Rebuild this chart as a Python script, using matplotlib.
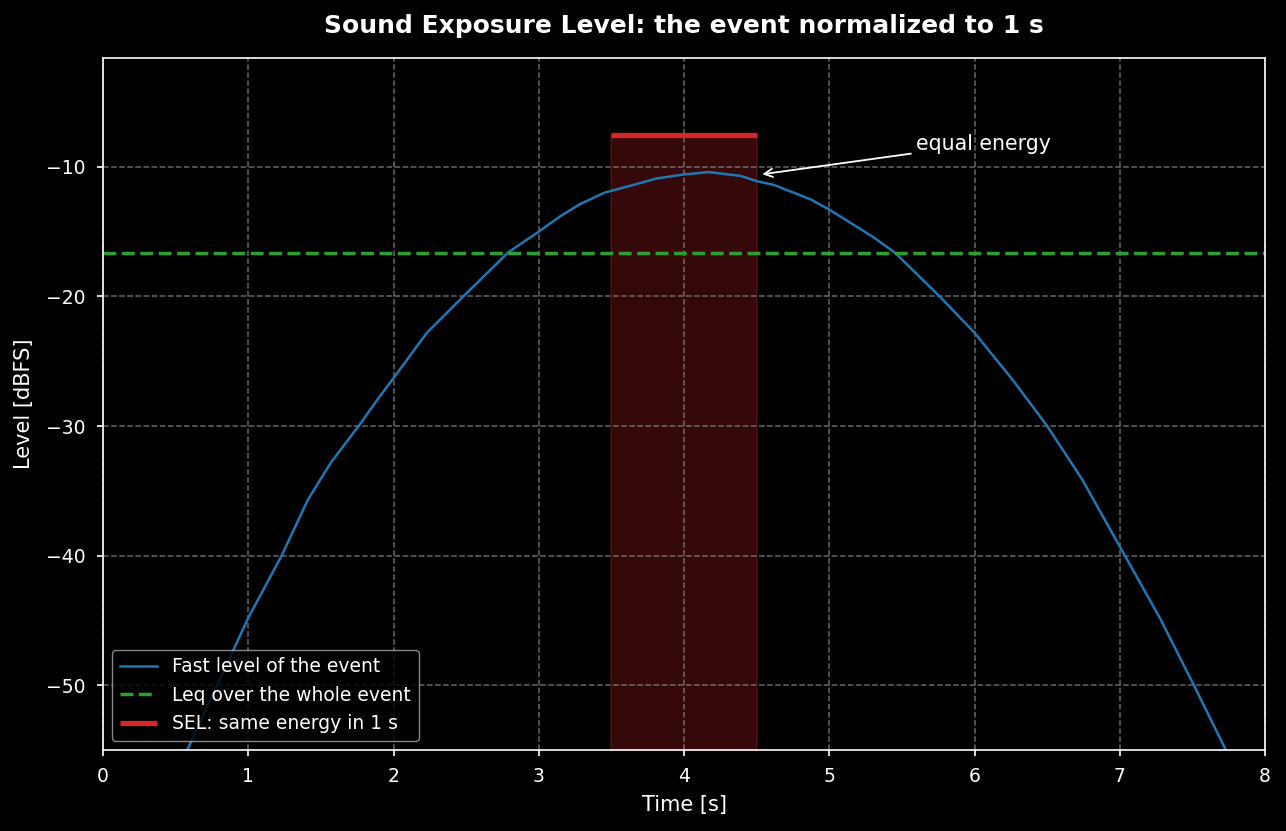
import numpy as np
import matplotlib
matplotlib.use('Agg')
from matplotlib import pyplot as plt

# values
t = [0.50, 0.58, 1.00, 1.23, 1.41, 1.57, 1.76, 1.90, 2.00, 2.23, 2.48, 2.79,
     3.00, 3.15, 3.28, 3.45, 3.65, 3.81, 3.99, 4.17, 4.39, 4.50, 4.62, 4.87,
     5.00, 5.30, 5.45, 5.76, 6.00, 6.26, 6.50, 6.74, 7.00, 7.28, 7.51, 7.73, 7.80]
level = [-56.8, -55.0, -44.8, -40.0, -35.7, -32.8, -30.0, -27.8, -26.3, -22.8,
         -20.0, -16.6, -15.0, -13.8, -12.9, -12.0, -11.4, -10.9, -10.6, -10.4,
         -10.7, -11.1, -11.4, -12.5, -13.3, -15.4, -16.6, -20.0, -22.8, -26.4,
         -30.0, -34.1, -39.3, -44.9, -50.0, -55.0, -56.7]
leq = -16.63
sel = -7.53
sel_window = [3.5, 4.5]

plt.style.use('dark_background')
fig = plt.figure(figsize=(12.86, 8.31), dpi=100)
ax = fig.add_axes([0.0801, 0.0975, 0.9036, 0.8327])

ax.plot(t, level, color='#1f77b4', lw=1.8, label='Fast level of the event')
ax.axhline(leq, color='#2ca02c', ls='--', lw=2.5, label='Leq over the whole event')
ax.fill_between(sel_window, -60, sel, color='#d62728', alpha=0.25, lw=1.2)
ax.plot(sel_window, [sel, sel], color='#d62728', lw=3.8, solid_capstyle='butt',
        label='SEL: same energy in 1 s')

ax.annotate('equal energy', xy=(4.52, -10.6), xytext=(5.6, -8.2),
            color='white', fontsize=14.8, va='center',
            arrowprops=dict(arrowstyle='->', color='white', lw=1.3))

ax.set_xlim(0, 8)
ax.set_ylim(-55, -1.6)
ax.grid(True, ls='--', color='gray', alpha=0.8, lw=1.1)
ax.tick_params(labelsize=13.5, width=1.2, length=4.5, pad=8)
ax.set_xlabel('Time [s]', fontsize=15, labelpad=6)
ax.set_ylabel('Level [dBFS]', fontsize=15, labelpad=9)
ax.set_title('Sound Exposure Level: the event normalized to 1 s',
             fontsize=18, fontweight='bold', pad=18)
for s in ax.spines.values():
    s.set_color('white')
    s.set_linewidth(1.2)

leg = ax.legend(loc='lower left', fontsize=13.5, facecolor='black',
                edgecolor='#aaaaaa', framealpha=0.8)

fig.savefig('out.png', dpi=100, facecolor='black')
